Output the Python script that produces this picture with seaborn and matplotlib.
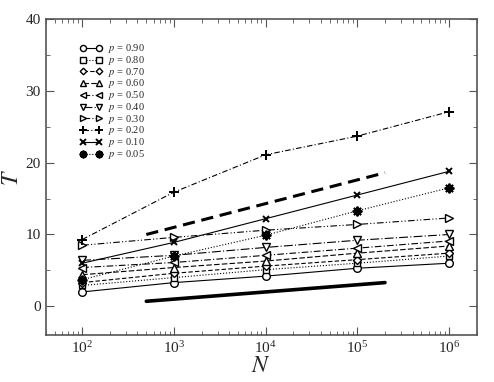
import numpy as np
import pandas as pd
import seaborn as sns
import matplotlib
matplotlib.use("Agg")
import matplotlib.pyplot as plt
from matplotlib.ticker import MultipleLocator, LogLocator, NullFormatter

# data
N = [1e2, 1e3, 1e4, 1e5, 1e6]
p_labels = ["0.90", "0.80", "0.70", "0.60", "0.50", "0.40", "0.30", "0.20", "0.10", "0.05"]
T_090 = [2.0, 3.3, 4.2, 5.3, 6.0]
T_080 = [2.9, 4.0, 5.1, 6.0, 7.0]
T_070 = [3.3, 4.6, 5.6, 6.5, 7.4]
T_060 = [4.4, 5.4, 6.3, 7.4, 8.4]
T_050 = [5.4, 6.1, 7.1, 8.1, 9.1]
T_040 = [6.4, 7.1, 8.2, 9.2, 10.0]
T_030 = [8.5, 9.6, 10.6, 11.4, 12.3]
T_020 = [9.3, 15.9, 21.1, 23.7, 27.1]
T_010 = [6.0, 8.9, 12.2, 15.5, 18.8]
T_005 = [3.7, 7.0, 9.9, 13.3, 16.5]

# guide lines
guide_N = [500, 2e5]
guide_upper = [10.0, 18.6]
guide_lower = [0.7, 3.3]

series = [T_090, T_080, T_070, T_060, T_050, T_040, T_030, T_020, T_010, T_005]
markers = ["o", "s", "D", "^", "<", "v", ">", "+", "x", (8, 2, 0)]
msizes = [5.5, 5, 4.2, 5.5, 5.5, 5.5, 5.5, 6.5, 5, 7]
styles = ["-", ":", (0, (4, 2)), (0, (5, 2)), (0, (6, 2, 1, 2)), (0, (8, 2, 1, 2)),
          (0, (6, 2, 1, 2, 1, 2)), (0, (5, 2, 1, 2)), "-", ":"]

sns.set_style("ticks")
plt.rcParams["font.family"] = ["Liberation Serif", "DejaVu Serif"]
plt.rcParams["mathtext.fontset"] = "stix"

fig = plt.figure(figsize=(4.94, 3.82), dpi=100)
ax = fig.add_axes([0.0925, 0.123, 0.8725, 0.827])

for lab, vals, m, ms, ls in zip(p_labels, series, markers, msizes, styles):
    df = pd.DataFrame({"N": N, "T": vals})
    sns.lineplot(data=df, x="N", y="T", ax=ax, color="black", lw=0.8,
                 linestyle=ls, marker=m, markersize=ms,
                 markerfacecolor="white", markeredgecolor="black",
                 markeredgewidth=1.0 if m not in ("+", "x", (8, 2, 0)) else 1.4,
                 label=r"$p$ = " + lab)

sns.lineplot(x=guide_N, y=guide_upper, ax=ax, color="black", lw=2.2,
             linestyle=(0, (4, 2.2)))
sns.lineplot(x=guide_N, y=guide_lower, ax=ax, color="black", lw=2.6)

ax.set_xscale("log")
ax.set_xlim(40, 2e6)
ax.set_ylim(-4, 40)
ax.yaxis.set_major_locator(MultipleLocator(10))
ax.yaxis.set_minor_locator(MultipleLocator(5))
ax.xaxis.set_major_locator(LogLocator(base=10, numticks=10))
ax.xaxis.set_minor_locator(LogLocator(base=10, subs=np.arange(2, 10), numticks=20))
ax.xaxis.set_minor_formatter(NullFormatter())

ax.tick_params(which="both", direction="in", top=True, right=True, color="#555555")
ax.tick_params(which="major", length=6, labelsize=11)
ax.tick_params(which="minor", length=3)
for s in ax.spines.values():
    s.set_color("#555555")
    s.set_linewidth(1.2)

ax.set_xlabel(r"$N$", fontsize=17, labelpad=0)
ax.set_ylabel(r"$T$", fontsize=17, labelpad=2)

ax.legend(loc="upper left", bbox_to_anchor=(0.07, 0.94), frameon=False,
          fontsize=7.5, numpoints=2, handlelength=2.1, handletextpad=0.6,
          labelspacing=-0.12, borderaxespad=0, markerscale=0.8, handleheight=0.5)

fig.savefig("out.png", dpi=100)
